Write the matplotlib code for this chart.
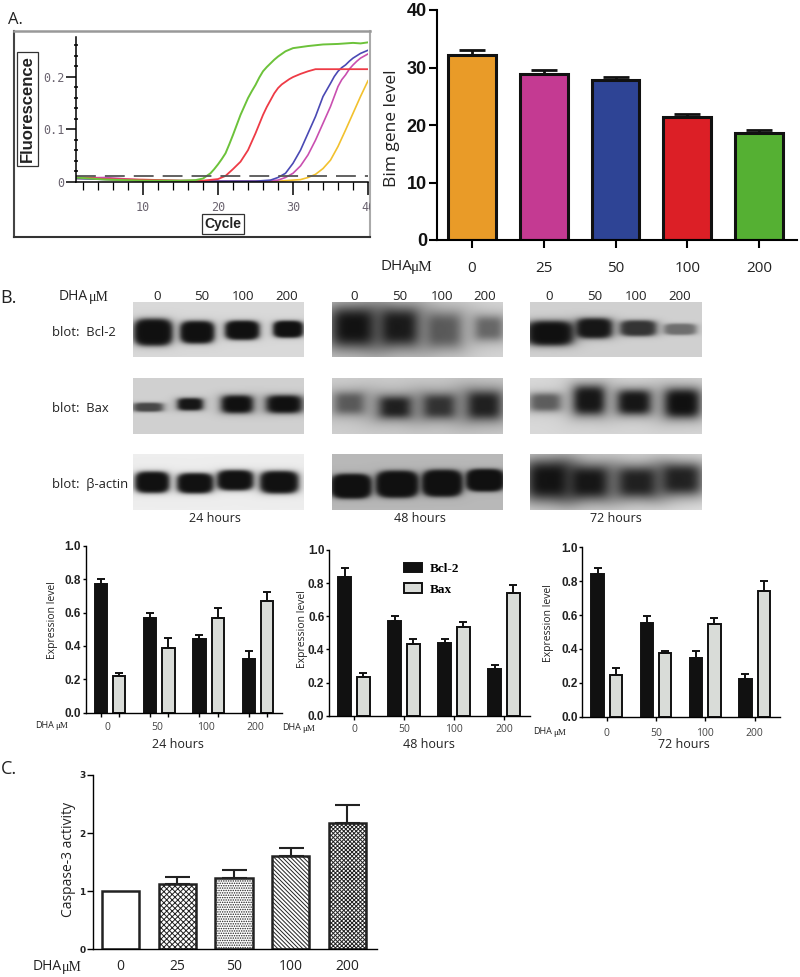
import matplotlib
matplotlib.use('Agg')
import matplotlib.pyplot as plt
import numpy as np

W, H = 800, 977
SANS = 'Open Sans'
BOLD = 'Liberation Sans'

# panel A, amplification curves
cycles_g = [1, 5, 10, 15, 17, 18, 19, 19.5, 20, 20.5, 21, 21.5, 22, 22.5, 23, 23.5, 24, 24.5, 25, 25.5, 26, 26.5, 27, 27.5, 28, 28.5, 29, 29.5, 30, 31, 32, 34, 36, 38, 39, 40]
green = [.008, .004, .002, .002, .003, .006, .016, .024, .033, .043, .054, .071, .089, .108, .127, .143, .159, .172, .184, .198, .21, .218, .225, .232, .238, .243, .248, .251, .254, .256, .258, .261, .262, .264, .263, .265]
cycles_r = [1, 5, 10, 15, 18, 20, 21, 22, 23, 24, 25, 26, 26.5, 27, 27.5, 28, 28.5, 29, 29.5, 30, 31, 32, 33, 36, 40]
red = [.009, .005, .004, .002, .002, .005, .011, .024, .038, .06, .092, .127, .142, .155, .168, .178, .185, .19, .195, .199, .205, .21, .214, .214, .214]
cycles_b = [1, 10, 20, 25, 27, 28, 29, 30, 31, 32, 33, 34, 35, 35.5, 36, 36.5, 37, 37.5, 38, 39, 40]
blue = [.006, .002, .001, .001, .003, .008, .016, .035, .06, .092, .124, .162, .187, .2, .21, .217, .222, .229, .235, .244, .25]
cycles_m = [1, 5, 10, 20, 26, 28, 29, 30, 31, 32, 33, 34, 35, 36, 36.5, 37, 37.5, 38, 38.5, 39, 40]
magenta = [.007, .008, .003, .001, .001, .003, .008, .016, .03, .051, .079, .111, .143, .181, .194, .203, .214, .222, .229, .235, .243]
cycles_y = [1, 3, 10, 20, 28, 30, 31, 32, 33, 34, 35, 36, 37, 38, 39, 40]
yellow = [.006, .006, .002, .001, .001, .003, .004, .008, .014, .025, .041, .067, .098, .13, .162, .192]
threshold = [.01, .01]
threshold_x = [1, 40]

# panel A, Bim bars
doses_bim = ['0', '25', '50', '100', '200']
bim = [32.2, 28.8, 27.9, 21.4, 18.6]
bim_err = [0.9, 0.7, 0.5, 0.6, 0.6]
bim_colors = ['#E99B28', '#C43A92', '#2E4495', '#DC1F26', '#55B033']

# panel B, densitometry
doses_blot = ['0', '50', '100', '200']
bcl2_24 = [.77, .57, .44, .32]
bcl2_24_err = [.03, .03, .025, .05]
bax_24 = [.22, .39, .57, .67]
bax_24_err = [.015, .055, .055, .05]
bcl2_48 = [.84, .57, .44, .28]
bcl2_48_err = [.05, .03, .02, .025]
bax_48 = [.235, .43, .535, .74]
bax_48_err = [.02, .03, .03, .05]
bcl2_72 = [.84, .555, .345, .225]
bcl2_72_err = [.035, .04, .04, .025]
bax_72 = [.245, .375, .545, .74]
bax_72_err = [.04, .015, .04, .06]

# panel C
doses_casp = ['0', '25', '50', '100', '200']
casp = [1, 1.13, 1.22, 1.6, 2.17]
casp_err = [0, .11, .14, .14, .31]
casp_hatch = ['', 'xxxxxx', '.......', '\\\\\\\\\\\\\\\\', 'xxxxxxxx']

# western blot bands: centre x, centre y, half width, half height, darkness (figure pixels)
bcl_24_bands = [(153, 332, 18, 12, .98), (197, 332, 16, 10, .98), (242, 330, 16, 8.5, .98), (288, 329, 14, 7.5, .98)]
bax_24_bands = [(148, 407, 14, 4, .7), (190, 404, 12, 5.5, .95), (237, 404, 15, 8, .98), (284, 404, 17, 8, .98)]
act_24_bands = [(152, 482, 16, 9.5, .98), (195, 483, 17, 9, .98), (235, 480, 17, 9, .98), (279, 482, 18, 10, .98)]
bcl_48_bands = [(353, 327, 22, 18, .97), (399, 327, 19, 17, .93), (444, 330, 17, 16, .6), (489, 328, 14, 11, .55)]
bax_48_bands = [(349, 403, 15, 10, .6), (395, 407, 16, 10, .9), (439, 406, 16, 11, .8), (484, 405, 17, 13, .9)]
act_48_bands = [(351, 486, 19, 11, .98), (397, 484, 20, 12, .98), (442, 483, 19, 12, .98), (485, 480, 18, 10, .98)]
bcl_72_bands = [(550, 333, 22, 11, .98), (594, 328, 17, 9, .95), (638, 328, 17, 7, .8), (680, 329, 15, 5, .5)]
bax_72_bands = [(545, 402, 15, 8, .6), (589, 400, 15, 13, .95), (634, 402, 16, 11, .95), (682, 403, 17, 13, .98)]
act_72_bands = [(548, 480, 22, 18, .97), (589, 482, 20, 15, .95), (637, 482, 20, 14, .9), (681, 479, 20, 14, .9)]


def px_axes(left, top, right, bottom, **kw):
    return fig.add_axes([left / W, 1 - bottom / H, (right - left) / W, (bottom - top) / H], **kw)


def label(x, y, s, size=9.5, ha='center', family=SANS, color='#222222', **kw):
    return fig.text(x / W, 1 - y / H, s, fontsize=size, ha=ha, va='center', family=family, color=color, **kw)


def dha_um(x, y, size, gap, mu_size=None):
    label(x, y, 'DHA', size=size, ha='left')
    label(x + gap, y + 1, 'μM', size=mu_size or size, ha='left', family='Liberation Serif')


def blot(left, top, right, bottom, bands, bg, sharp):
    ax = px_axes(left, top, right, bottom)
    xs = np.arange(left, right, 0.5)
    ys = np.arange(top, bottom, 0.5)
    xx, yy = np.meshgrid(xs, ys)
    img = np.full(xx.shape, float(bg))
    for cx, cy, hw, hh, dark in bands:
        r = (np.abs((xx - cx) / (hw * 1.1)) ** 3.5 + np.abs((yy - cy) / (hh * 1.15)) ** 3.5) ** (1 / 3.5)
        d = dark / (1 + r ** sharp)
        img = img * (1 - d) + 0.05 * d
    ax.imshow(img, cmap='gray', vmin=0, vmax=1, aspect='auto', interpolation='bilinear')
    ax.axis('off')


def paired(box, bcl, bcl_e, bax, bax_e, x0, step, tick_shift=0, pad=6, bar_ticks=False, legend=False):
    left, top, right, bottom = box
    ax = px_axes(left, top, right, bottom)
    ax.set_xlim((left - x0) / step, (right - x0) / step)
    ax.set_ylim(0, 1)
    pos = np.arange(4)
    off = 0.186
    ax.bar(pos - off, bcl, 0.25, color='#111111', edgecolor='#111111', linewidth=1.4, label='Bcl-2')
    ax.bar(pos + off, bax, 0.25, color='#D9DCD8', edgecolor='#111111', linewidth=1.4, label='Bax')
    ax.errorbar(pos - off, bcl, yerr=[[0] * 4, bcl_e], fmt='none', ecolor='#111111', capsize=3.2, capthick=1.4, elinewidth=1.4)
    ax.errorbar(pos + off, bax, yerr=[[0] * 4, bax_e], fmt='none', ecolor='#111111', capsize=3.2, capthick=1.4, elinewidth=1.4)
    ax.spines[['top', 'right']].set_visible(False)
    ax.spines[['left', 'bottom']].set_linewidth(1.0)
    ax.set_yticks([0, .2, .4, .6, .8, 1.0])
    ax.set_yticklabels(['0.0', '0.2', '0.4', '0.6', '0.8', '1.0'], fontsize=8.5, fontweight='bold', family=BOLD, color='#222222')
    ax.tick_params(axis='y', length=2.4, width=1, pad=1)
    if bar_ticks:
        ax.set_xticks(np.sort(np.r_[pos - off, pos + off]))
    else:
        ax.set_xticks(pos)
    ax.set_xticklabels([])
    ax.tick_params(axis='x', length=3, width=1)
    # minor ticks only carry the dose labels, they may sit on a major tick
    ax.xaxis.remove_overlapping_locs = False
    ax.set_xticks(pos + tick_shift, minor=True)
    ax.set_xticklabels(doses_blot, minor=True, fontsize=7.5, family=SANS, color='#444444')
    ax.tick_params(axis='x', which='minor', length=0, pad=pad)
    if legend:
        ax.legend(loc='upper left', bbox_to_anchor=(0.315, 0.995), frameon=False, handlelength=1.36, handleheight=0.72,
                  labelspacing=0.62, handletextpad=0.6, prop={'family': 'Liberation Serif', 'weight': 'bold', 'size': 9.5})
    return ax


fig = plt.figure(figsize=(W / 100, H / 100), dpi=100)

# ---- A, qPCR trace
frame = px_axes(14, 31, 370, 237)
frame.set_xticks([])
frame.set_yticks([])
for side, col, lw in [('left', '#444444', 1.5), ('bottom', '#333333', 1.5), ('top', '#999999', 1.8), ('right', '#aaaaaa', 1.5)]:
    frame.spines[side].set_color(col)
    frame.spines[side].set_linewidth(lw)

qp = px_axes(75.5, 37, 368, 181.7)
qp.patch.set_alpha(0)
qp.set_xlim(1, 40)
qp.set_ylim(0, 0.2752)
qp.plot(cycles_y, yellow, color='#F2C12E', lw=1.2)
qp.plot(cycles_m, magenta, color='#C94FB0', lw=1.2)
qp.plot(cycles_b, blue, color='#4A49B4', lw=1.2)
qp.plot(cycles_r, red, color='#EE3B46', lw=1.3)
qp.plot(cycles_g, green, color='#6CC23A', lw=1.4)
qp.plot(threshold_x, threshold, color='#555555', lw=1.3, dashes=(11, 5))
qp.spines[['top', 'right']].set_visible(False)
qp.spines[['left', 'bottom']].set_linewidth(1.1)
qp.set_xticks([10, 20, 30, 40])
qp.set_xticklabels(['10', '20', '30', '40'], family='DejaVu Sans Mono', fontsize=8.5, color='#6b6470')
qp.set_xticks(np.arange(2, 40, 2), minor=True)
qp.set_yticks([0, .1, .2])
qp.set_yticklabels(['0', '0.1', '0.2'], family='DejaVu Sans Mono', fontsize=8.5, color='#6b6470')
qp.set_yticks(np.arange(0, .27, .02), minor=True)
qp.tick_params(axis='x', which='major', length=9, width=1.1, pad=5)
qp.tick_params(axis='x', which='minor', length=6, width=0.9)
qp.tick_params(axis='y', which='major', length=7, width=1.1, pad=1)
qp.tick_params(axis='y', which='minor', length=3, width=1.1, direction='inout')
for t in qp.get_xticklabels():
    t.set_clip_box(frame.bbox)
    t.set_clip_on(True)
box_style = dict(boxstyle='square,pad=0.2', fc='white', ec='#333333', lw=0.9)
label(27.5, 109, 'Fluorescence', size=12, family=BOLD, color='#222222', rotation=90, fontweight='bold', bbox=box_style)
label(223, 224, 'Cycle', size=10, family=BOLD, color='#222222', fontweight='bold', bbox=box_style)

# ---- A, Bim bars
bm = px_axes(436.7, 10, 797, 240)
step = 71.9
bm.set_xlim((436.7 - 471.7) / step, (797 - 471.7) / step)
bm.set_ylim(0, 40)
xb = np.arange(5)
bm.bar(xb, bim, 0.665, color=bim_colors, edgecolor='#111111', linewidth=2.2)
bm.errorbar(xb, bim, yerr=[[0] * 5, bim_err], fmt='none', ecolor='#111111', capsize=9.5, capthick=2, elinewidth=2)
bm.spines[['top', 'right']].set_visible(False)
bm.spines[['left', 'bottom']].set_linewidth(1.5)
bm.set_yticks([0, 10, 20, 30, 40])
bm.set_yticklabels(['0', '10', '20', '30', '40'], fontsize=13, fontweight='bold', family=BOLD, color='#111111')
bm.set_xticks(xb)
bm.set_xticklabels(doses_bim, fontsize=11, family=SANS, color='#222222')
bm.tick_params(axis='both', length=6, width=1.5)
bm.tick_params(axis='x', pad=9)
bm.tick_params(axis='y', pad=1)
label(392, 128, 'Bim gene level', size=12.5, rotation=90)
dha_um(380, 267, 11, 31, 11)

# ---- B, blots
label(8, 298, 'B.', size=13, ha='center')
label(8, 20, 'A.', size=12, ha='left')
dha_um(59, 296, 10, 30, 10)
for yy, txt in [(332, 'blot:  Bcl-2'), (408, 'blot:  Bax'), (484, 'blot:  β-actin')]:
    label(52, yy, txt, size=9.4, ha='left')

blot(133, 302, 304, 357, bcl_24_bands, .85, 10)
blot(133, 378, 304, 434, bax_24_bands, .82, 7)
blot(133, 454, 304, 510, act_24_bands, .93, 10)
blot(332, 302, 503, 357, bcl_48_bands, .85, 4)
blot(332, 378, 503, 434, bax_48_bands, .82, 4)
blot(332, 454, 503, 510, act_48_bands, .72, 12)
blot(530, 302, 702, 357, bcl_72_bands, .82, 8)
blot(530, 378, 702, 434, bax_72_bands, .85, 5)
blot(530, 454, 702, 510, act_72_bands, .92, 4)

for xs in [(157, 202, 243, 287), (354, 400, 442, 485), (549, 595, 636, 680)]:
    for x, d in zip(xs, doses_blot):
        label(x, 296, d, size=9.5)
for x, txt in [(215, '24 hours'), (420, '48 hours'), (616, '72 hours')]:
    label(x, 519, txt, size=9)

# ---- B, densitometry bars
paired((85.7, 545.7, 282, 712.7), bcl2_24, bcl2_24_err, bax_24, bax_24_err, 110, 49.3, -0.05, pad=7, bar_ticks=True)
paired((329, 550, 530, 715.7), bcl2_48, bcl2_48_err, bax_48, bax_48_err, 354, 50, 0, pad=6, legend=True)
paired((582.3, 547.3, 780, 716.7), bcl2_72, bcl2_72_err, bax_72, bax_72_err, 606.7, 49.3, pad=8)

label(52, 620, 'Expression level', size=7.5, rotation=90)
label(302.5, 629, 'Expression level', size=7.5, rotation=90)
label(549, 623, 'Expression level', size=7.5, rotation=90)
dha_um(35, 725, 6.5, 20, 6.5)
dha_um(282, 728, 6.5, 20, 6.5)
dha_um(533, 732, 6.5, 20, 6.5)
label(178, 745, '24 hours', size=9)
label(429, 745, '48 hours', size=9)
label(684, 745, '72 hours', size=9)

# ---- C, caspase bars
plt.rcParams['hatch.linewidth'] = 0.7
cs = px_axes(92.7, 775, 376.7, 949.3)
step = 56.65
cs.set_xlim((92.7 - 120.7) / step, (376.7 - 120.7) / step)
cs.set_ylim(0, 3)
xc = np.arange(5)
bars = cs.bar(xc, casp, 0.66, color='white', edgecolor='#222222', linewidth=1.8)
for b, h in zip(bars, casp_hatch):
    b.set_hatch(h)
cs.errorbar(xc[1:], casp[1:], yerr=[[0] * 4, casp_err[1:]], fmt='none', ecolor='#222222', capsize=9, capthick=1.5, elinewidth=1.5)
cs.spines[['top', 'right']].set_visible(False)
cs.spines[['left', 'bottom']].set_linewidth(1.0)
cs.set_yticks([0, 1, 2, 3])
cs.set_yticklabels(['0', '1', '2', '3'], fontsize=6.5, fontweight='bold', family='DejaVu Sans', color='#222222')
cs.set_xticks(xc)
cs.set_xticklabels(doses_casp, fontsize=10, family=SANS, color='#222222')
cs.tick_params(axis='x', length=0, pad=7)
cs.tick_params(axis='y', length=4, width=1, pad=1)
label(68, 859, 'Caspase-3 activity', size=10, rotation=90)
dha_um(33, 966, 10, 29, 10)
label(9, 769, 'C.', size=13)

fig.savefig('out.png', dpi=100)
